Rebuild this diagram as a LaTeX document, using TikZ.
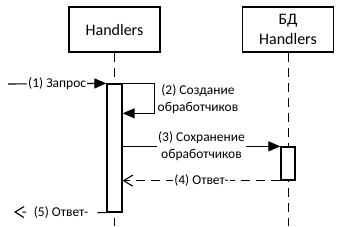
\documentclass[tikz,border=0pt]{standalone}
\usepackage{fontspec}
\setmainfont{Carlito}
\usetikzlibrary{positioning,arrows.meta}

\begin{document}
\begin{tikzpicture}[
        x=1pt, y=-1pt,
        header/.style={
            draw,
            line width=1.3pt,
            fill=white,
            align=center,
            minimum width=91pt,
            minimum height=45pt,
            font=\fontsize{16}{20}\selectfont
        },
        activation/.style={
            draw,
            line width=1.3pt,
            fill=white,
            minimum width=15pt,
            inner sep=0pt
        },
        lifeline/.style={line width=1pt, dash pattern=on 9pt off 6pt},
        call/.style={-{Triangle[length=12pt,width=10pt]}, line width=1.1pt},
        reply/.style={-{Straight Barb[length=9pt,width=11pt]}, line width=1.1pt, dash pattern=on 9pt off 6pt},
        msglabel/.style={fill=white, align=center, inner sep=1pt, font=\fontsize{13.5}{16.5}\selectfont}
    ]
        \useasboundingbox (0,0) rectangle (341,226);

        \node[header] (handlers) at (114.5,29.5) {Handlers};
        \node[header] (dbhandlers) at (288,29.5) {БД\\Handlers};

        \coordinate (handlersend) at (114.5,226);
        \coordinate (dbhandlersend) at (288,226);
        \draw[lifeline] (handlers) -- (handlersend);
        \draw[lifeline] (dbhandlers) -- (dbhandlersend);

        \node[activation, minimum height=128pt] (handlersact) at (114.5,148) {};
        \node[activation, minimum width=14pt, minimum height=33pt] (dbact) at (288,163.5) {};

        \coordinate (client) at (8,84);
        \coordinate (caller) at (14,212);

        \draw[call] (client) -- (handlersact.north west) node[msglabel, midway] {(1) Запрос};
        \draw[call] (handlersact.north east) -- ++(32,0) -- ++(0,30) -- ++(-32,0);
        \node[msglabel, fill=none] (createlabel) at (198,99) {(2) Создание\\обработчиков};
        \draw[call] (handlersact.east |- dbact.north) -- (dbact.north west)
            node[msglabel, midway] {(3) Сохранение\\обработчиков};
        \draw[reply] (dbact.south west) -- (handlersact.east |- dbact.south)
            node[msglabel, midway] {(4) Ответ-};
        \draw[reply] (handlersact.south west) -- (caller)
            node[msglabel, pos=0.49, inner xsep=8pt] {(5) Ответ-};
    \end{tikzpicture}
\end{document}
